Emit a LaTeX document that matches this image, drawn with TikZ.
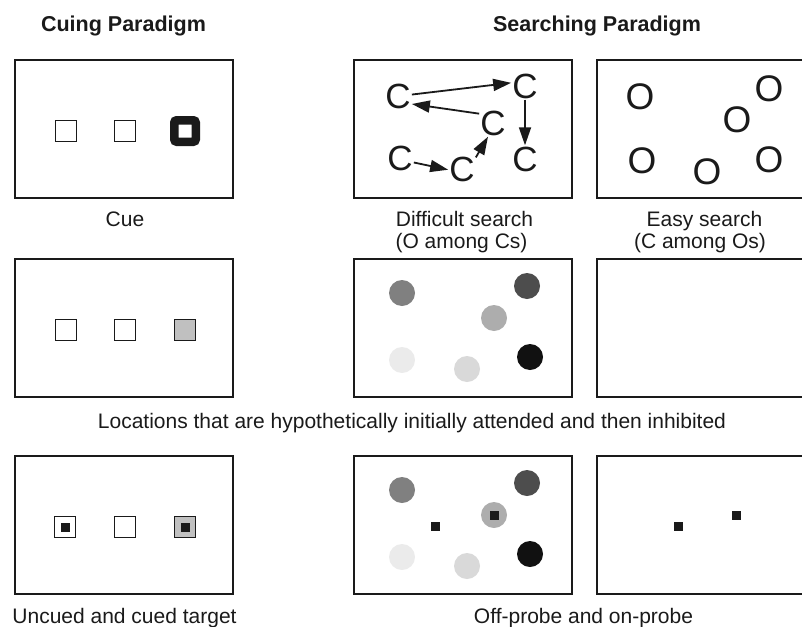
\documentclass[tikz,border=0pt]{standalone}
\usepackage{fontspec}
\setmainfont{Liberation Sans}
\usetikzlibrary{arrows.meta}
\definecolor{gA}{HTML}{808080}
\definecolor{gB}{HTML}{4D4D4D}
\definecolor{gC}{HTML}{ADADAD}
\definecolor{gD}{HTML}{EBEBEB}
\definecolor{gE}{HTML}{D9D9D9}
\definecolor{gF}{HTML}{111111}
\definecolor{gS}{HTML}{C0C0C0}
\definecolor{ink}{HTML}{1A1A1A}
\begin{document}
\begin{tikzpicture}[x=1pt,y=-1pt,
  frame/.style={draw=ink, line width=1.4pt, minimum width=218pt, minimum height=138pt, inner sep=0pt},
  sq/.style={draw=ink, line width=1.2pt, minimum size=21pt, inner sep=0pt},
  cuesq/.style={draw=ink, line width=8.5pt, minimum size=21.5pt, inner sep=0pt, rounded corners=2.5pt},
  probe/.style={fill=ink, minimum size=9pt, inner sep=0pt},
  dot/.style={circle, minimum size=26pt, inner sep=0pt},
  letC/.style={font=\fontsize{35}{35}\selectfont, inner sep=1pt, text height=25pt, text depth=0pt, text=ink},
  letO/.style={font=\fontsize{37}{37}\selectfont, inner sep=1pt, text height=26.5pt, text depth=0pt, text=ink},
  arr/.style={-{Triangle[length=18pt,width=12pt]}, line width=1.8pt, draw=ink},
  lbl/.style={font=\fontsize{21}{22}\selectfont, anchor=base, inner sep=0pt, text=ink},
  head/.style={font=\bfseries\fontsize{21.5}{22}\selectfont, anchor=base, inner sep=0pt, text=ink}
]
\useasboundingbox (0,0) rectangle (802,626);

% headings
\node[head] (h1) at (123.5,32) {Cuing Paradigm};
\node[head] (h2) at (597,32) {Searching Paradigm};

% frames
\node[frame] (L1) at (124,129) {};
\node[frame] (L2) at (124,328) {};
\node[frame] (L3) at (124,525) {};
\node[frame] (M1) at (463,129) {};
\node[frame] (M2) at (463,328) {};
\node[frame] (M3) at (463,525) {};
\node[frame, minimum width=215pt] (R1) at (704.5,129) {};
\node[frame, minimum width=215pt] (R2) at (704.5,328) {};
\node[frame, minimum width=215pt] (R3) at (704.5,525) {};

% cuing row 1
\node[sq] (s11) at (66,131) {};
\node[sq] (s12) at (125,131) {};
\node[cuesq] (s13) at (185,131) {};
% cuing row 2
\node[sq] (s21) at (66,330) {};
\node[sq] (s22) at (125,330) {};
\node[sq, fill=gS] (s23) at (185,330) {};
% cuing row 3
\node[sq] (s31) at (65,527) {};
\node[sq] (s32) at (125,527) {};
\node[sq, fill=gS] (s33) at (185,527) {};
\node[probe] (p31) at (65,527) {};
\node[probe] (p33) at (185,527) {};

% difficult search: Cs
\node[letC] (C1) at (398,96) {C};
\node[letC] (C2) at (525,86) {C};
\node[letC] (C3) at (493,123) {C};
\node[letC] (C4) at (400,158) {C};
\node[letC] (C5) at (462,169) {C};
\node[letC] (C6) at (525,159) {C};
\draw[arr] (C1.6) -- (C2.167);
\draw[arr] (C3.146) -- (C1.-30);
\draw[arr] (C2.south) -- (C6.north);
\draw[arr] (C4.-18) -- (C5.183);
\draw[arr] (C5.40) -- (C3.250);

% easy search: Os
\node[letO] (O1) at (640,96) {O};
\node[letO] (O2) at (769,88) {O};
\node[letO] (O3) at (737,119) {O};
\node[letO] (O4) at (642,160) {O};
\node[letO] (O5) at (707,171) {O};
\node[letO] (O6) at (769,159) {O};

% row 2 circles
\node[dot, fill=gA] (d21) at (402,293) {};
\node[dot, fill=gB] (d22) at (527,286) {};
\node[dot, fill=gC] (d23) at (494,318) {};
\node[dot, fill=gD] (d24) at (402,360) {};
\node[dot, fill=gE] (d25) at (467,369) {};
\node[dot, fill=gF] (d26) at (530,357) {};

% row 3 circles
\node[dot, fill=gA] (d31) at (402,490) {};
\node[dot, fill=gB] (d32) at (527,483) {};
\node[dot, fill=gC] (d33) at (494,515) {};
\node[dot, fill=gD] (d34) at (402,557) {};
\node[dot, fill=gE] (d35) at (467,566) {};
\node[dot, fill=gF] (d36) at (530,554) {};
\node[probe] (pm1) at (435,526) {};
\node[probe] (pm2) at (494,515) {};
\node[probe] (pr1) at (678,526) {};
\node[probe] (pr2) at (736,515) {};

% labels
\node[lbl] (t1) at (125,226) {Cue};
\node[lbl] (t2) at (464.5,226) {Difficult search};
\node[lbl] (t3) at (461.5,248) {(O among Cs)};
\node[lbl] (t4) at (704.5,226) {Easy search};
\node[lbl] (t5) at (700,248) {(C among Os)};
\node[lbl] (t6) at (412,428) {Locations that are hypothetically initially attended and then inhibited};
\node[lbl] (t7) at (124.5,623) {Uncued and cued target};
\node[lbl] (t8) at (583.5,623) {Off-probe and on-probe};
\end{tikzpicture}
\end{document}
